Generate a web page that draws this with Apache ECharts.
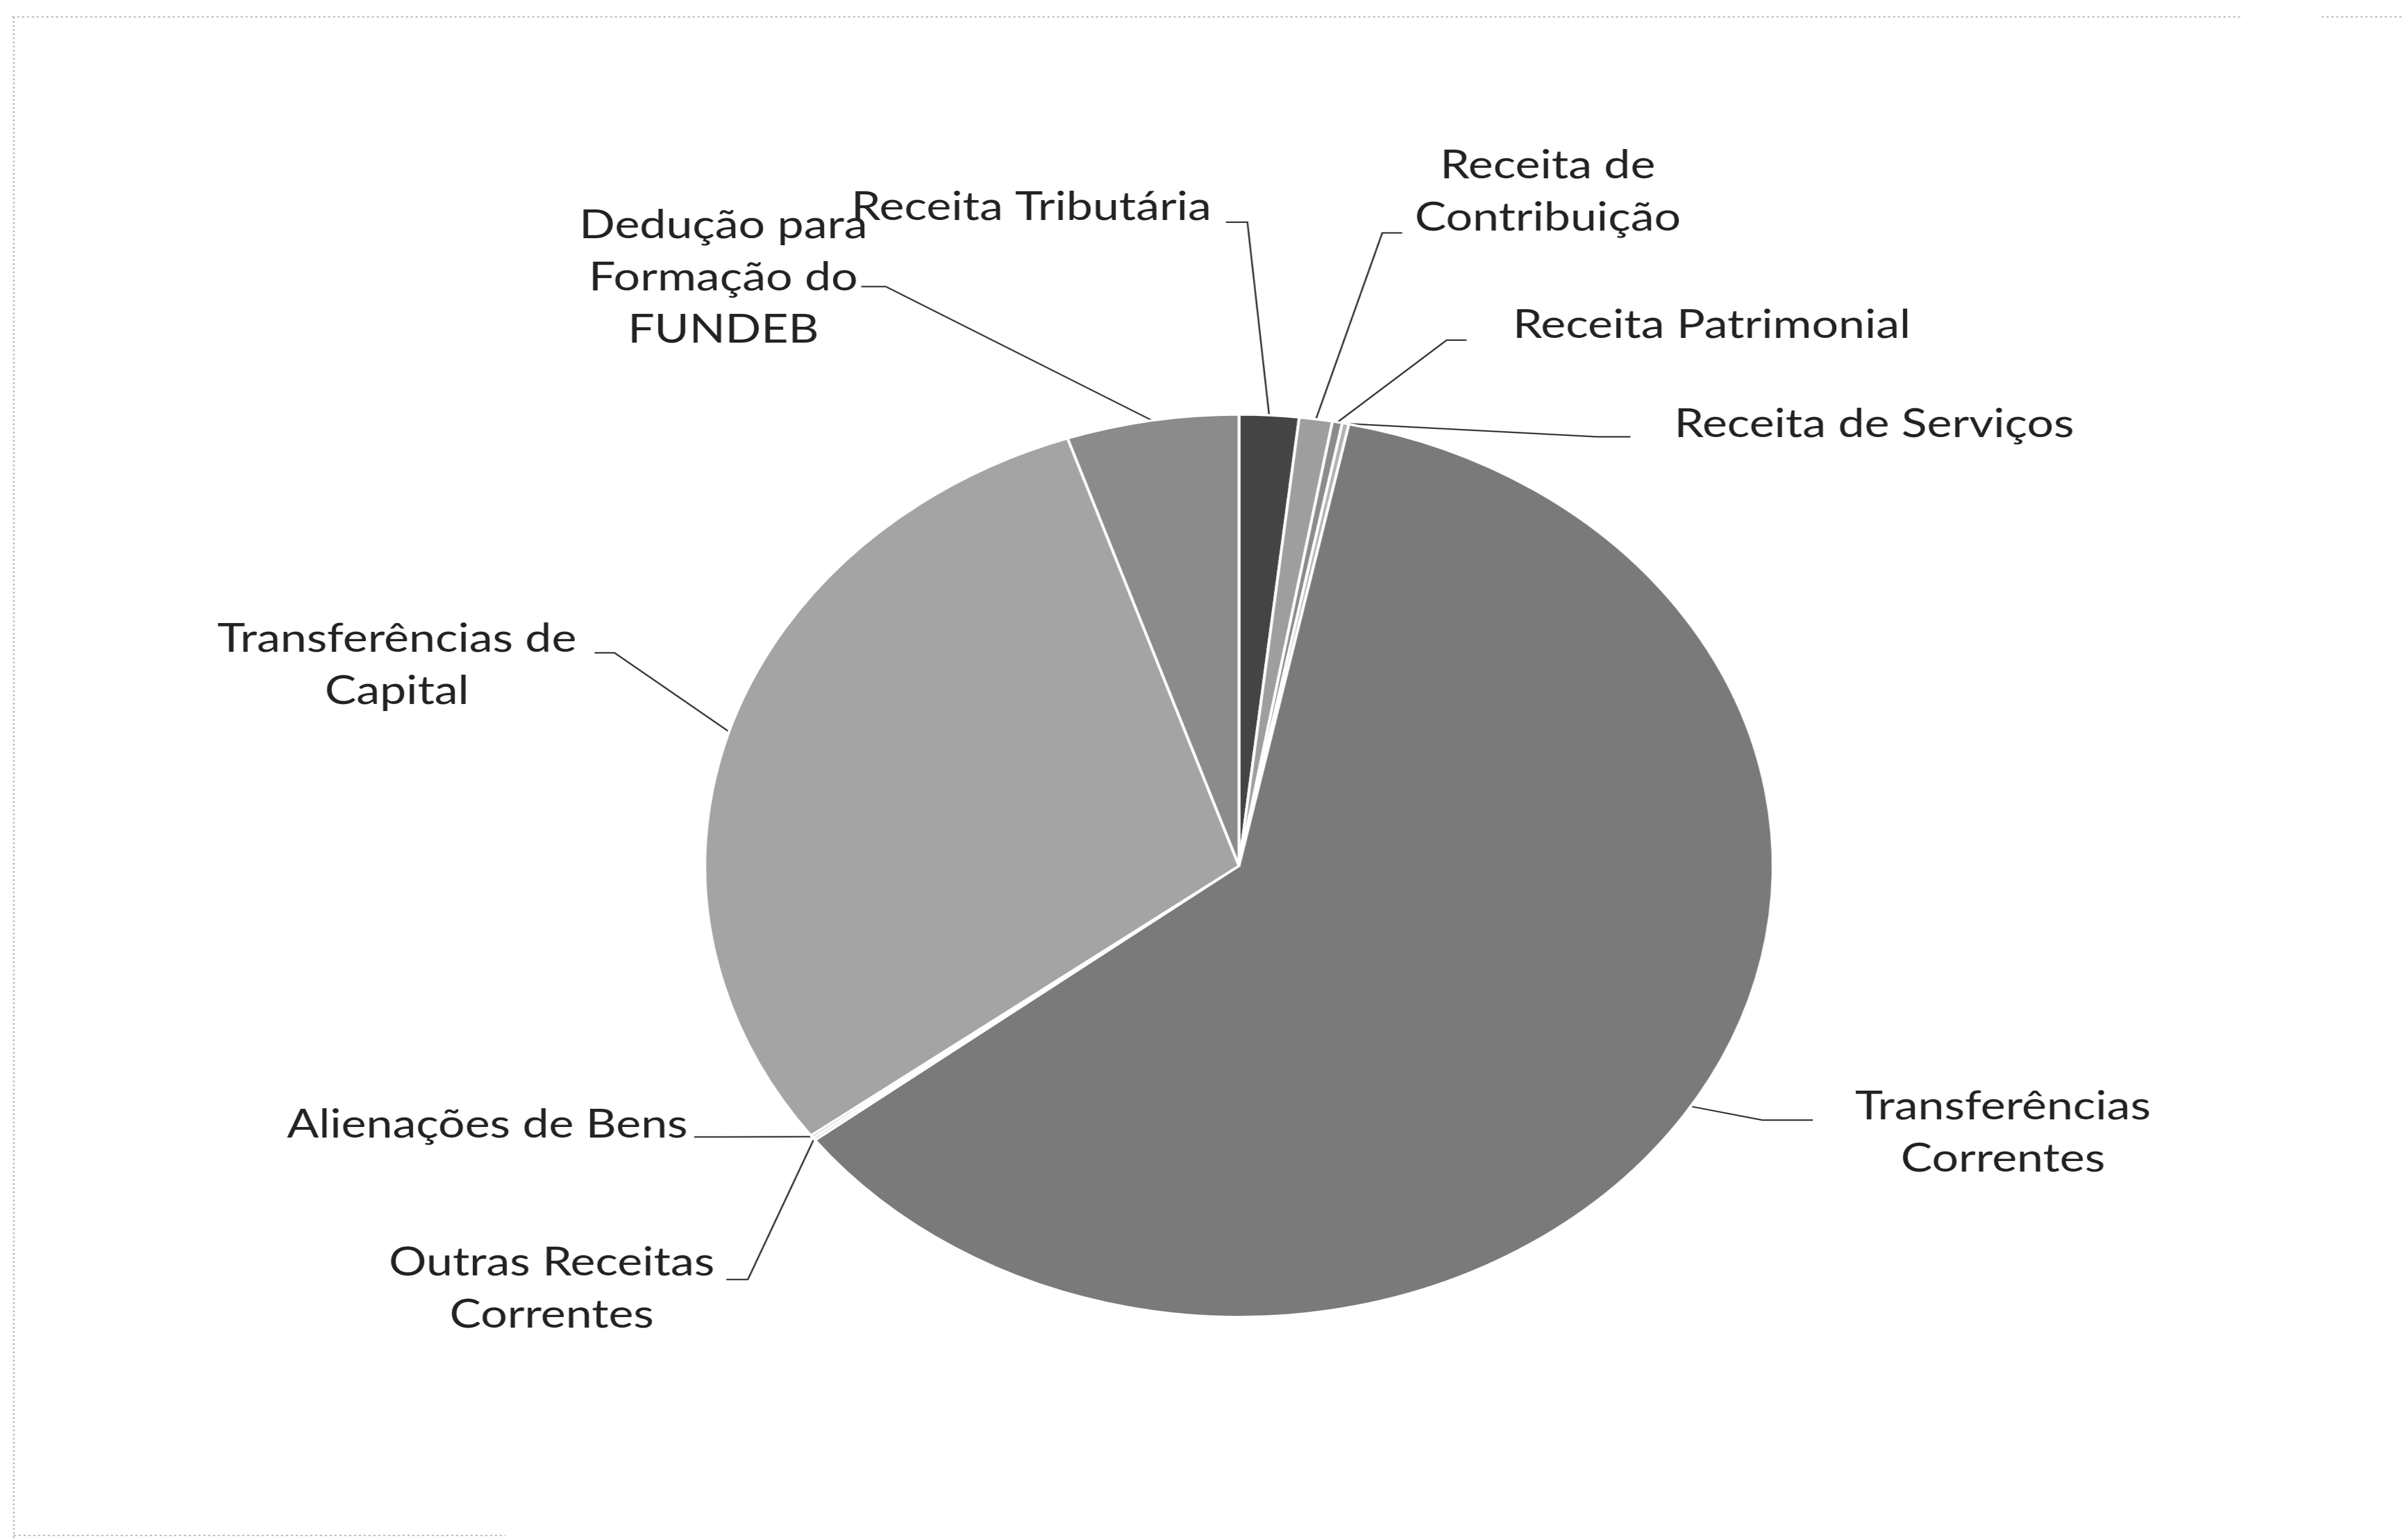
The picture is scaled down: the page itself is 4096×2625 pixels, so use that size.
<!DOCTYPE html>
<html>
<head>
<meta charset="utf-8">
<title>Receitas</title>
<script src="https://cdn.jsdelivr.net/npm/echarts@6/dist/echarts.min.js"></script>
<style>
  html, body { margin: 0; padding: 0; background: #ffffff; width: 4096px; height: 2625px; overflow: hidden; }
  #wrap { position: absolute; left: 0; top: 0; width: 4096px; height: 2625px; overflow: hidden; }
  /* the chart is drawn on a narrower canvas and widened, giving the oval pie */
  #chart { position: absolute; left: 0; top: 0; width: 3461px; height: 2625px;
           transform-origin: 0 0; transform: scaleX(1.1834); }
</style>
</head>
<body>
<div id="wrap"><div id="chart"></div></div>
<script>
// Revenue categories, clockwise from 12 o'clock
const categories = [
  'Receita Tributária',
  'Receita de Contribuição',
  'Receita Patrimonial',
  'Receita de Serviços',
  'Transferências Correntes',
  'Outras Receitas Correntes',
  'Alienações de Bens',
  'Transferências de Capital',
  'Dedução para Formação do FUNDEB'
];

// Share of total revenue (%)
const shares = [1.8, 1.0, 0.3, 0.2, 61.3, 0.1, 0.1, 30.0, 5.2];

// Word positions after which each label wraps onto a new line
const labelBreaks = [[], [2], [], [], [1], [2], [], [2], [2, 4]];

// ---- presentation ----
const sliceColors = ['#444444', '#9e9e9e', '#8c8c8c', '#b2b2b2', '#7a7a7a',
                     '#9a9a9a', '#a8a8a8', '#a4a4a4', '#8b8b8b'];

// Layout is written on a 1568 x 1005 design grid and scaled to the canvas.
const CW = 3461, CH = 2625;
const gx = v => v * CW / 1568;
const gy = v => v * CH / 1005;

// label block centre, leader-line elbow and leader-line end (design grid)
const placements = [
  { c: [673, 135],   elbow: [814, 145],  end: [800, 145] },
  { c: [1010, 125],  elbow: [902, 152],  end: [915, 152] },
  { c: [1117, 212],  elbow: [944, 222],  end: [957, 222] },
  { c: [1223, 277],  elbow: [1042, 285], end: [1064, 285] },
  { c: [1307, 739],  elbow: [1150, 731], end: [1183, 731] },
  { c: [360, 841],   elbow: [488, 835],  end: [474, 835] },
  { c: [318, 734],   elbow: [470, 742],  end: [453, 742] },
  { c: [259, 434],   elbow: [401, 426],  end: [388, 426] },
  { c: [472, 181],   elbow: [578, 187],  end: [562, 187] }
];

const pieCenter = [gx(808.5), gy(565)];
const pieRadius = gy(294.5);

function wrapLabel(name, breaks) {
  const words = name.split(' ');
  let out = '';
  words.forEach((w, i) => {
    if (i > 0) out += breaks.indexOf(i) >= 0 ? '\n' : ' ';
    out += w;
  });
  return out;
}

// edge point at a slice's mid angle, used if the library gives no guide points
function sliceEdgeMid(idx) {
  const total = shares.reduce((a, b) => a + b, 0);
  let before = 0;
  for (let i = 0; i < idx; i++) before += shares[i];
  const mid = (before + shares[idx] / 2) / total * Math.PI * 2;
  return [pieCenter[0] + Math.sin(mid) * pieRadius, pieCenter[1] - Math.cos(mid) * pieRadius];
}

const pieData = categories.map((name, i) => ({
  name: name,
  value: shares[i],
  itemStyle: { color: sliceColors[i] }
}));

const frameStyle = { stroke: '#adadad', lineWidth: 2, lineDash: [3, 4] };

const chart = echarts.init(document.getElementById('chart'), null, { renderer: 'canvas' });
chart.setOption({
  backgroundColor: '#ffffff',
  animation: false,
  graphic: [
    { type: 'line', shape: { x1: gx(8), y1: gy(11), x2: gx(1462), y2: gy(11) }, style: frameStyle, silent: true },
    { type: 'line', shape: { x1: gx(1515), y1: gy(11), x2: gx(1568), y2: gy(11) }, style: frameStyle, silent: true },
    { type: 'line', shape: { x1: gx(9), y1: gy(11), x2: gx(9), y2: gy(1005) }, style: frameStyle, silent: true },
    { type: 'line', shape: { x1: gx(9), y1: gy(1002), x2: gx(330), y2: gy(1002) }, style: frameStyle, silent: true }
  ],
  series: [{
    type: 'pie',
    center: pieCenter,
    radius: pieRadius,
    startAngle: 90,
    clockwise: true,
    avoidLabelOverlap: false,
    minShowLabelAngle: 0,
    data: pieData,
    itemStyle: { borderColor: '#ffffff', borderWidth: 4 },
    label: {
      show: true,
      position: 'outside',
      color: '#222222',
      fontFamily: 'Lato',
      fontSize: 68,
      lineHeight: 89,
      align: 'center',
      formatter: p => wrapLabel(p.name, labelBreaks[p.dataIndex])
    },
    labelLine: {
      show: true,
      length: 20,
      length2: 20,
      lineStyle: { color: '#333333', width: 2.5 }
    },
    labelLayout: function (params) {
      const pl = placements[params.dataIndex];
      const start = (params.labelLinePoints && params.labelLinePoints[0])
        ? params.labelLinePoints[0] : sliceEdgeMid(params.dataIndex);
      return {
        x: gx(pl.c[0]),
        y: gy(pl.c[1]),
        align: 'center',
        verticalAlign: 'middle',
        labelLinePoints: [
          [start[0], start[1]],
          [gx(pl.elbow[0]), gy(pl.elbow[1])],
          [gx(pl.end[0]), gy(pl.end[1])]
        ]
      };
    },
    emphasis: { disabled: true }
  }]
});
</script>
</body>
</html>
